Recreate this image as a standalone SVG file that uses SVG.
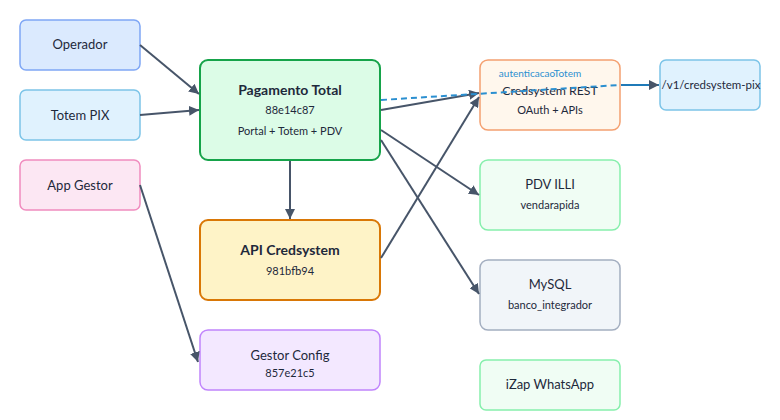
<svg xmlns="http://www.w3.org/2000/svg" width="780" height="420" viewBox="0 0 780 420">
<defs>
<marker id="ah" markerWidth="10" markerHeight="10" refX="10" refY="5" orient="auto" markerUnits="userSpaceOnUse" viewBox="0 0 10 10">
<path d="M0,0 L10,5 L0,10 z" fill="#475569"/>
</marker>
<style>
.n rect{stroke-width:1.5}
text{font-family:Lato,"Liberation Sans",sans-serif;fill:#1e293b;text-anchor:middle}
.t{font-size:13px}
.b{font-size:14px;font-weight:bold}
.s{font-size:11px}
.e{stroke:#475569;stroke-width:2;fill:none;marker-end:url(#ah)}
</style>
</defs>
<rect width="780" height="420" fill="#ffffff"/>
<g id="operador" class="n"><rect x="20" y="20" width="120" height="50" rx="6" fill="#dbeafe" stroke="#7fa7f5"/><text class="t" x="80" y="49">Operador</text></g>
<g id="totem-pix" class="n"><rect x="20" y="90" width="120" height="50" rx="6" fill="#e0f2fe" stroke="#7cc4e8"/><text class="t" x="80" y="120">Totem PIX</text></g>
<g id="app-gestor" class="n"><rect x="20" y="160" width="120" height="50" rx="6" fill="#fce7f3" stroke="#f08cbf"/><text class="t" x="80" y="190">App Gestor</text></g>
<g id="pagamento-total" class="n"><rect x="200" y="60" width="180" height="100" rx="8" fill="#dcfce7" stroke="#16a34a" style="stroke-width:2"/><text class="b" x="290" y="95">Pagamento Total</text><text class="s" x="290" y="114">88e14c87</text><text class="s" x="290" y="135">Portal + Totem + PDV</text></g>
<g id="api-credsystem" class="n"><rect x="200" y="220" width="180" height="80" rx="8" fill="#fef3c7" stroke="#d97706" style="stroke-width:2"/><text class="b" x="290" y="255">API Credsystem</text><text class="s" x="290" y="275">981bfb94</text></g>
<g id="gestor-config" class="n"><rect x="200" y="330" width="180" height="60" rx="8" fill="#f3e8ff" stroke="#c084fc"/><text class="t" x="290" y="360">Gestor Config</text><text class="s" x="290" y="377">857e21c5</text></g>
<g id="credsystem-rest" class="n"><rect x="480" y="60" width="140" height="70" rx="8" fill="#fff7ed" stroke="#f4a070"/><text class="t" x="550" y="95" style="font-size:12.3px">Credsystem REST</text><text class="s" x="550" y="114">OAuth + APIs</text></g>
<g id="v1-credsystem-pix" class="n"><rect x="660" y="60" width="100" height="50" rx="6" fill="#e0f2fe" stroke="#7cc4e8"/><text class="t" x="711" y="89" style="font-size:11.5px">/v1/credsystem-pix</text></g>
<g id="pdv-illi" class="n"><rect x="480" y="160" width="140" height="70" rx="8" fill="#f0fdf4" stroke="#86efac"/><text class="t" x="550" y="189">PDV ILLI</text><text class="s" x="550" y="209">vendarapida</text></g>
<g id="mysql" class="n"><rect x="480" y="260" width="140" height="70" rx="8" fill="#f1f5f9" stroke="#a3aec0"/><text class="t" x="550" y="289">MySQL</text><text class="s" x="550" y="309">banco_integrador</text></g>
<g id="izap-whatsapp" class="n"><rect x="480" y="360" width="140" height="50" rx="6" fill="#f0fdf4" stroke="#86efac"/><text class="t" x="550" y="389">iZap WhatsApp</text></g>
<g id="connectors">
<line class="e" x1="140" y1="45" x2="199" y2="94"/>
<line class="e" x1="140" y1="115" x2="199" y2="110"/>
<line class="e" x1="140" y1="185" x2="198" y2="362"/>
<line class="e" x1="290" y1="161" x2="290" y2="219"/>
<line class="e" x1="381" y1="110" x2="479" y2="93"/>
<line class="e" x1="381" y1="258" x2="479" y2="97"/>
<line class="e" x1="381" y1="130" x2="479" y2="195"/>
<line class="e" x1="381" y1="140" x2="479" y2="294"/>
<line x1="381" y1="100" x2="620" y2="85" stroke="#2b8fd0" stroke-width="2" stroke-dasharray="6 4"/>
<line x1="621" y1="85" x2="659" y2="85" stroke="#1f7ab8" stroke-width="2" marker-end="url(#ah)"/>
<text x="540" y="77" style="font-size:10px;fill:#2b8fd0">autenticacaoTotem</text>
</g>
</svg>
